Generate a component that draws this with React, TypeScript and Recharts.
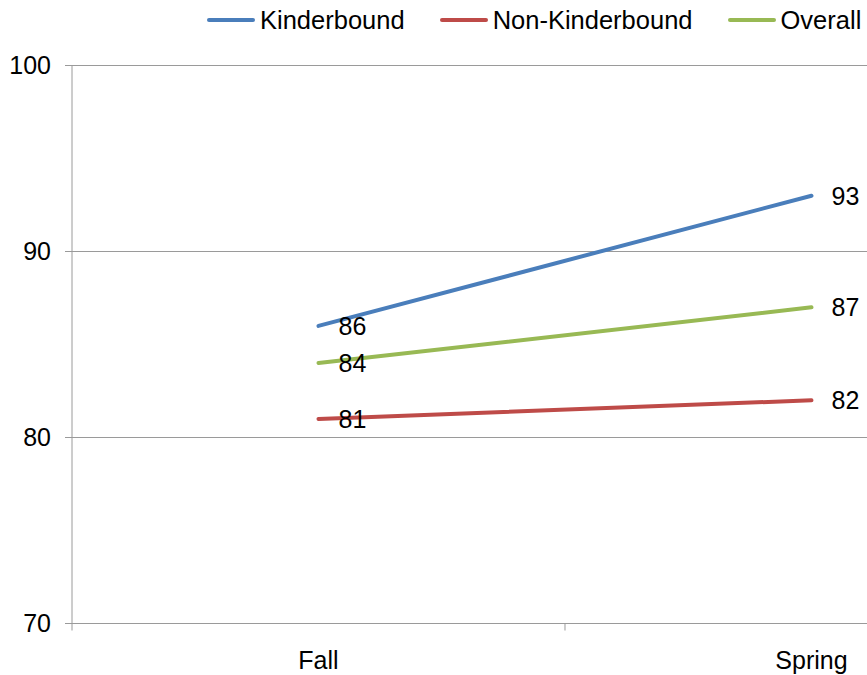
import React from 'react';
import { CartesianGrid, LabelList, Legend, Line, LineChart, XAxis, YAxis } from 'recharts';

const CATEGORIES = ['Fall', 'Spring'];
const KINDERBOUND = [86, 93];
const NON_KINDERBOUND = [81, 82];
const OVERALL = [84, 87];
const Y_TICKS = [70, 80, 90, 100];

const SERIES = [
  { key: 'kinderbound', name: 'Kinderbound', color: '#4a7ebb' },
  { key: 'nonKinderbound', name: 'Non-Kinderbound', color: '#be4b48' },
  { key: 'overall', name: 'Overall', color: '#98b954' },
];

const FONT = '"Liberation Sans", Arial, sans-serif';
const AXIS = '#9a9a9a';
const TEXT = '#000';

// each category sits in the middle of a unit-wide band; bands are split by tick marks
const data = CATEGORIES.map((name, i) => ({
  pos: i + 0.5,
  name,
  kinderbound: KINDERBOUND[i],
  nonKinderbound: NON_KINDERBOUND[i],
  overall: OVERALL[i],
}));
const xTicks = CATEGORIES.flatMap((_, i) => [i, i + 0.5]);

function CategoryTick({ x, y, payload }: any) {
  const v = payload.value as number;
  if (Number.isInteger(v)) {
    return <line x1={x} x2={x} y1={y} y2={y + 7} stroke={AXIS} />;
  }
  return (
    <text x={x} y={y + 45} textAnchor="middle" fontSize={25} fontFamily={FONT} fill={TEXT}>
      {CATEGORIES[Math.floor(v)]}
    </text>
  );
}

function ValueLabel(props: any) {
  const { x, y, value } = props;
  return (
    <text x={x + 20} y={y} dy="0.355em" fontSize={25} fontFamily={FONT} fill={TEXT}>
      {value}
    </text>
  );
}

function LegendContent() {
  return (
    <div style={{ display: 'flex', alignItems: 'center', height: 40, fontFamily: FONT, fontSize: 25.5, color: TEXT }}>
      {SERIES.map((s) => (
        <div key={s.key} style={{ display: 'flex', alignItems: 'center', marginRight: 35 }}>
          <span style={{ display: 'inline-block', width: 48, height: 4, borderRadius: 2, background: s.color, marginRight: 5 }} />
          <span style={{ whiteSpace: 'nowrap' }}>{s.name}</span>
        </div>
      ))}
    </div>
  );
}

export default function App() {
  return (
    <div style={{ position: 'absolute', left: 0, top: 0, width: 867, height: 675, background: '#fff' }}>
      <LineChart width={867} height={675} data={data} margin={{ top: 25.5, right: 0, bottom: 21.5, left: 0 }}>
        <CartesianGrid horizontal vertical={false} stroke={AXIS} />
        <XAxis
          dataKey="pos"
          type="number"
          domain={[0, 1.6126]}
          ticks={xTicks}
          interval={0}
          height={30}
          tickSize={0}
          tickMargin={0}
          tickLine={false}
          axisLine={{ stroke: AXIS }}
          tick={<CategoryTick />}
          allowDataOverflow
        />
        <YAxis
          domain={[70, 100]}
          ticks={Y_TICKS}
          interval={0}
          width={72}
          tickSize={7}
          tickMargin={14}
          axisLine={{ stroke: AXIS }}
          tickLine={{ stroke: AXIS }}
          tick={{ fontSize: 25, fill: TEXT, fontFamily: FONT }}
        />
        <Legend
          verticalAlign="top"
          content={<LegendContent />}
          wrapperStyle={{ top: 0, left: 207, width: 660 }}
        />
        {SERIES.map((s) => (
          <Line
            key={s.key}
            dataKey={s.key}
            name={s.name}
            stroke={s.color}
            strokeWidth={4}
            strokeLinecap="round"
            dot={false}
            activeDot={false}
            isAnimationActive={false}
          >
            <LabelList dataKey={s.key} content={<ValueLabel />} />
          </Line>
        ))}
      </LineChart>
    </div>
  );
}
